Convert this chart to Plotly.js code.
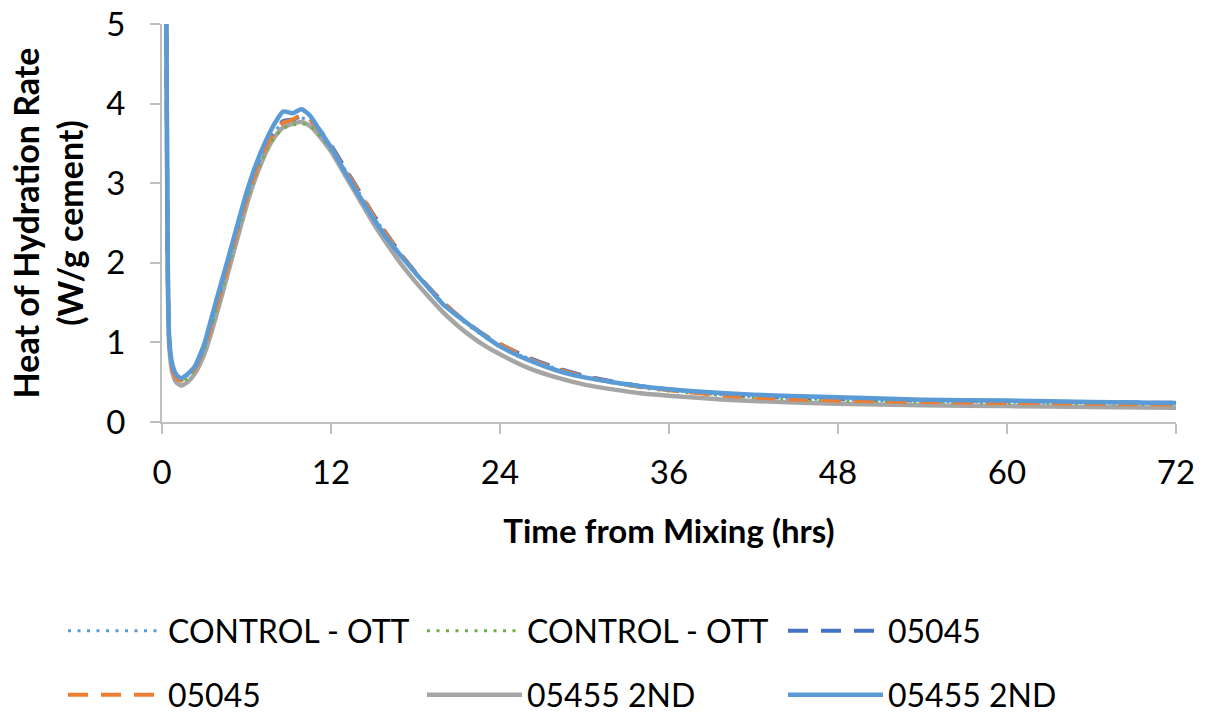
<!DOCTYPE html>
<html>
<head>
<meta charset="utf-8">
<script src="https://cdn.plot.ly/plotly-3.0.1.min.js"></script>
<style>html,body{margin:0;padding:0;background:#fff;}#chart{width:1205px;height:715px;}</style>
</head>
<body>
<div id="chart"></div>
<script>
// Time from mixing (hrs)
const timeHrs = [0.2, 0.3, 0.4, 0.5, 0.7, 1.0, 1.35, 1.8, 2.3, 3, 3.5, 4, 4.5, 5, 5.5, 6, 6.5, 7, 7.5, 8, 8.6, 9.3, 9.9, 10.5, 11, 12, 13, 14, 15, 16, 17, 18, 19, 20, 21, 22, 23, 24, 26, 28, 30, 32, 34, 36, 40, 44, 48, 54, 60, 66, 72];

// Heat of hydration rate (W/g cement)
const controlOttA = [9, 5.5, 2.1, 1.05, 0.7, 0.57, 0.53, 0.58, 0.67, 0.94, 1.23, 1.55, 1.87, 2.19, 2.52, 2.82, 3.08, 3.31, 3.5, 3.65, 3.76, 3.79, 3.82, 3.78, 3.69, 3.46, 3.17, 2.88, 2.6, 2.33, 2.09, 1.87, 1.67, 1.49, 1.33, 1.19, 1.07, 0.97, 0.8, 0.67, 0.57, 0.5, 0.44, 0.4, 0.34, 0.3, 0.28, 0.26, 0.25, 0.24, 0.23];
const controlOttB = [9, 5.5, 2.0, 1.0, 0.68, 0.55, 0.5, 0.55, 0.64, 0.9, 1.18, 1.49, 1.81, 2.13, 2.45, 2.76, 3.02, 3.25, 3.44, 3.58, 3.69, 3.73, 3.75, 3.72, 3.64, 3.42, 3.14, 2.86, 2.58, 2.32, 2.08, 1.86, 1.66, 1.48, 1.32, 1.18, 1.06, 0.96, 0.79, 0.66, 0.56, 0.49, 0.43, 0.39, 0.33, 0.29, 0.27, 0.25, 0.24, 0.23, 0.22];
const s05045A = [9, 5.5, 2.1, 1.05, 0.71, 0.57, 0.53, 0.58, 0.67, 0.95, 1.25, 1.57, 1.89, 2.21, 2.54, 2.84, 3.1, 3.33, 3.52, 3.67, 3.78, 3.8, 3.84, 3.8, 3.71, 3.48, 3.19, 2.9, 2.61, 2.35, 2.1, 1.88, 1.68, 1.5, 1.34, 1.2, 1.08, 0.98, 0.81, 0.68, 0.58, 0.51, 0.45, 0.41, 0.35, 0.31, 0.29, 0.27, 0.26, 0.25, 0.24];
const s05045B = [9, 5.5, 2.1, 1.05, 0.7, 0.56, 0.52, 0.57, 0.66, 0.93, 1.22, 1.53, 1.85, 2.17, 2.5, 2.8, 3.07, 3.3, 3.5, 3.65, 3.76, 3.8, 3.86, 3.8, 3.7, 3.46, 3.17, 2.89, 2.6, 2.34, 2.1, 1.88, 1.68, 1.5, 1.34, 1.2, 1.08, 0.98, 0.8, 0.67, 0.57, 0.5, 0.44, 0.4, 0.33, 0.29, 0.27, 0.25, 0.24, 0.23, 0.22];
const s05455GrayB = [9, 5.5, 2.0, 1.0, 0.65, 0.5, 0.46, 0.5, 0.6, 0.85, 1.12, 1.43, 1.75, 2.08, 2.4, 2.72, 3.0, 3.23, 3.43, 3.58, 3.7, 3.75, 3.77, 3.72, 3.63, 3.4, 3.1, 2.8, 2.5, 2.23, 1.98, 1.76, 1.56, 1.37, 1.21, 1.07, 0.95, 0.85, 0.68, 0.56, 0.47, 0.41, 0.36, 0.33, 0.28, 0.25, 0.23, 0.21, 0.2, 0.19, 0.18];
const s05455BlueB = [9, 5.5, 2.2, 1.1, 0.75, 0.6, 0.55, 0.6, 0.69, 0.98, 1.3, 1.62, 1.93, 2.25, 2.57, 2.88, 3.15, 3.38, 3.58, 3.75, 3.9, 3.88, 3.93, 3.85, 3.72, 3.45, 3.14, 2.84, 2.56, 2.3, 2.08, 1.87, 1.67, 1.47, 1.33, 1.2, 1.07, 0.95, 0.78, 0.65, 0.56, 0.5, 0.45, 0.41, 0.36, 0.33, 0.31, 0.28, 0.27, 0.25, 0.24];

const seriesNames = ['CONTROL - OTT', 'CONTROL - OTT', '05045', '05045', '05455 2ND', '05455 2ND'];
const seriesValues = [controlOttA, controlOttB, s05045A, s05045B, s05455GrayB, s05455BlueB];
const seriesColors = ['#5B9BD5', '#70AD47', '#4472C4', '#ED7D31', '#A5A5A5', '#5B9BD5'];
const seriesDash = ['3px,6.5px', '3px,6.5px', '20px,13px', '20px,13px', 'solid', 'solid'];
const seriesWidth = [3, 3, 4, 4, 4.5, 4.5];

const xTicks = [0, 12, 24, 36, 48, 60, 72];
const yTicks = [0, 1, 2, 3, 4, 5];

const FONT = 'Lato, "Open Sans", sans-serif';

// one legend box per entry, laid out as a 3 x 2 grid like the reference
const legendIds = ['legend', 'legend2', 'legend3', 'legend4', 'legend5', 'legend6'];
const legendCols = [63, 422, 783];
const legendRows = [631, 695];

const order = [4, 0, 1, 2, 3, 5];
const traces = order.map(i => ({
  type: 'scatter', mode: 'lines',
  x: timeHrs, y: seriesValues[i],
  name: seriesNames[i],
  legend: legendIds[i],
  line: {color: seriesColors[i], width: seriesWidth[i], dash: seriesDash[i], shape: 'spline', smoothing: 0.6}
}));

const layout = {
  width: 1205, height: 715,
  paper_bgcolor: '#fff', plot_bgcolor: '#fff',
  margin: {l: 162, r: 29, t: 24, b: 293},
  showlegend: true,
  xaxis: {
    range: [0, 72], tickvals: xTicks, ticktext: xTicks.map(String),
    showgrid: false, zeroline: false,
    showline: true, linecolor: '#BFBFBF', linewidth: 2,
    ticks: 'outside', ticklen: 10, tickwidth: 2, tickcolor: '#BFBFBF',
    ticklabelstandoff: 10,
    tickfont: {family: FONT, size: 33, color: '#000'},
    title: {text: 'Time from Mixing (hrs)', font: {family: FONT, size: 33, color: '#000', weight: 'bold'}, standoff: 30}
  },
  yaxis: {
    range: [0, 5], tickvals: yTicks, ticktext: yTicks.map(String),
    showgrid: false, zeroline: false,
    showline: true, linecolor: '#BFBFBF', linewidth: 2,
    ticks: 'outside', ticklen: 10, tickwidth: 2, tickcolor: '#BFBFBF',
    ticklabelstandoff: 18,
    tickfont: {family: FONT, size: 33, color: '#000'},
    title: {text: 'Heat of Hydration Rate<br>(W/g cement)', font: {family: FONT, size: 34, color: '#000', weight: 'bold'}, standoff: 12}
  }
};

legendIds.forEach((id, i) => {
  layout[id] = {
    orientation: 'h', xref: 'container', yref: 'container',
    xanchor: 'left', yanchor: 'middle',
    x: legendCols[i % 3] / 1205, y: 1 - legendRows[Math.floor(i / 3)] / 715,
    itemwidth: 95,
    font: {family: FONT, size: 32, color: '#000'},
    bgcolor: 'rgba(0,0,0,0)'
  };
});

Plotly.newPlot('chart', traces, layout, {displayModeBar: false, staticPlot: true});
</script>
</body>
</html>
